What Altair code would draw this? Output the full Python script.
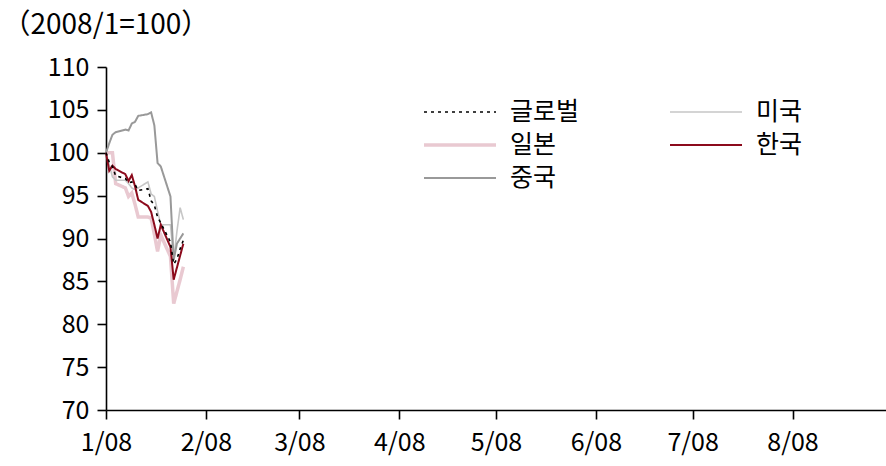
import altair as alt
import pandas as pd

FONT = "Noto Sans CJK KR"

# trading days, January 2008 (index base: 2008/1 = 100)
dates = [
    "2008-01-01", "2008-01-02", "2008-01-03", "2008-01-04", "2008-01-07",
    "2008-01-08", "2008-01-09", "2008-01-10", "2008-01-11", "2008-01-14",
    "2008-01-15", "2008-01-16", "2008-01-17", "2008-01-18", "2008-01-21",
    "2008-01-22", "2008-01-23", "2008-01-24", "2008-01-25",
]

global_vals = [100, 98.9, 98.4, 97.3, 97.0, 96.5, 96.6, 96.3, 95.6, 95.8,
               94.4, 93.9, 92.5, 91.8, 89.6, 87.0, 87.6, 88.8, 89.8]
us_vals = [100, 98.6, 97.2, 96.8, 96.8, 96.4, 95.9, 95.7, 95.9, 96.6,
           95.2, 94.9, 93.2, 91.6, 91.6, 87.5, 90.8, 93.6, 92.2]
japan_vals = [100, 100, 100, 96.4, 95.9, 94.9, 95.3, 94.0, 92.5, 92.5,
              92.4, 90.5, 88.5, 90.4, 87.9, 82.4, 83.8, 85.2, 86.7]
korea_vals = [100, 97.9, 98.5, 98.1, 97.5, 96.7, 97.4, 96.1, 94.5, 93.8,
              93.1, 91.6, 90.0, 91.6, 89.0, 85.2, 86.6, 88.0, 89.4]
china_vals = [100, 101.1, 102.1, 102.4, 102.7, 102.6, 103.4, 103.6, 104.3, 104.5,
              104.7, 103.2, 98.8, 98.4, 94.9, 87.5, 89.4, 90.0, 90.6]

# legend order; the two-column legend fills column by column:
# left column 글로벌 / 일본 / 중국, right column 미국 / 한국
series = ["글로벌", "일본", "중국", "미국", "한국"]
colors = ["#000000", "#e9c9d1", "#999999", "#c6c6c6", "#8c0a1c"]
dashes = [[3, 4], [1, 0], [1, 0], [1, 0], [1, 0]]
widths = [1.6, 3.5, 2.0, 1.6, 2.0]

# drawing order, bottom to top
draw_order = ["일본", "미국", "중국", "한국", "글로벌"]

values_by_series = {
    "글로벌": global_vals,
    "미국": us_vals,
    "일본": japan_vals,
    "한국": korea_vals,
    "중국": china_vals,
}

rows = []
for name in series:
    for d, v in zip(dates, values_by_series[name]):
        rows.append({"date": d, "series": name, "value": v})
df = pd.DataFrame(rows)

x_enc = alt.X(
    "date:T",
    scale=alt.Scale(
        type="utc",
        domain=[
            alt.DateTime(year=2008, month=1, date=1, utc=True),
            alt.DateTime(year=2008, month=8, date=30, utc=True),
        ],
    ),
    axis=alt.Axis(
        values=[alt.DateTime(year=2008, month=m, date=1, utc=True) for m in range(1, 9)],
        labelExpr="utcFormat(datum.value, '%-m/%y')",
        labelFlush=False,
        title=None,
        tickSize=9,
        labelPadding=11,
        grid=False,
    ),
)

y_enc = alt.Y(
    "value:Q",
    scale=alt.Scale(domain=[70, 110], nice=False, zero=False),
    axis=alt.Axis(
        values=list(range(70, 111, 5)),
        title="（2008/1=100）",
        titleAngle=0,
        titleAlign="left",
        titleBaseline="alphabetic",
        titleX=-104,
        titleY=-34,
        titleFont=FONT,
        titleFontSize=28,
        titleFontWeight="normal",
        titleColor="#000000",
        tickSize=9,
        labelPadding=8,
        grid=False,
    ),
)

legend = alt.Legend(
    title=None,
    orient="none",
    legendX=316,
    legendY=32,
    columns=2,
    symbolType="stroke",
    symbolSize=5184,
    clipHeight=26,
    labelFont=FONT,
    labelFontSize=25,
    labelColor="#000000",
    labelOffset=12,
    columnPadding=88,
    rowPadding=7,
)

color_enc = alt.Color("series:N", scale=alt.Scale(domain=series, range=colors), legend=legend)
dash_enc = alt.StrokeDash("series:N", scale=alt.Scale(domain=series, range=dashes), legend=legend)
width_enc = alt.StrokeWidth(
    "series:N", scale=alt.Scale(type="ordinal", domain=series, range=widths), legend=legend
)

layers = [
    alt.Chart(df)
    .transform_filter(alt.datum.series == name)
    .mark_line(strokeJoin="miter")
    .encode(x=x_enc, y=y_enc, color=color_enc, strokeDash=dash_enc, strokeWidth=width_enc)
    for name in draw_order
]

chart = (
    alt.layer(*layers)
    .properties(
        width=780,
        height=343,
        autosize=alt.AutoSizeParams(type="none"),
        padding={"left": 106, "top": 67, "right": 0, "bottom": 56},
        background="white",
    )
    .configure_view(stroke=None)
    .configure_axis(
        labelFont=FONT,
        labelFontSize=25,
        labelColor="#000000",
        domainColor="#000000",
        domainWidth=1.6,
        tickColor="#000000",
        tickWidth=1.6,
    )
)

chart.save("out.html", embed_options={"renderer": "svg", "actions": False})
